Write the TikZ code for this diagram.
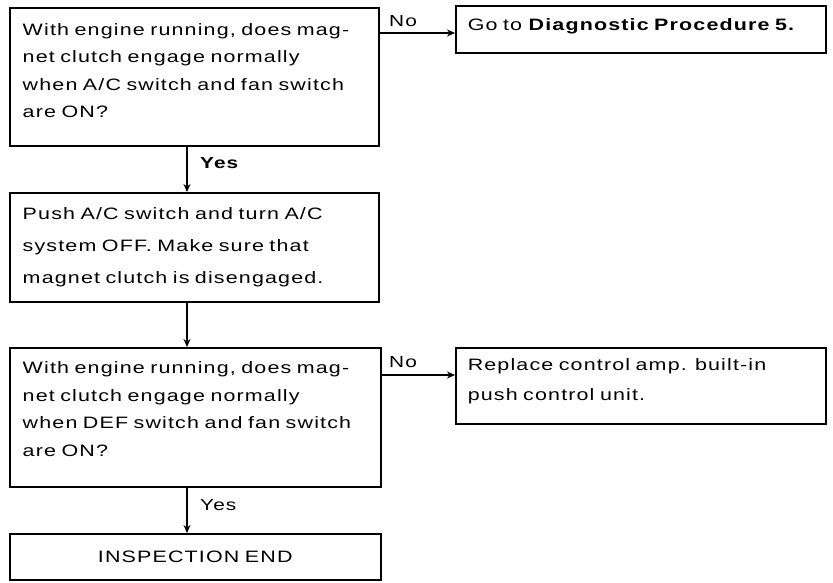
\documentclass[tikz,border=0pt]{standalone}
\usepackage{fontspec}
\setmainfont{Liberation Sans}[FakeStretch=1.3, LetterSpace=7, WordSpace=1.35]
\usetikzlibrary{arrows.meta}
\newcommand{\lift}[1]{\rule[-#1pt]{0pt}{0pt}}
\begin{document}
\begin{tikzpicture}[x=1pt,y=-1pt,
  box/.style={draw, line width=1.5pt, rectangle, anchor=north west, inner xsep=13pt, inner ysep=0pt, align=left},
  arr/.style={line width=1.3pt, -{Stealth[length=8pt,width=7pt]}},
  lbl/.style={inner sep=0pt, anchor=base west, font=\fontsize{16}{18}\selectfont},
  txt/.style={font=\fontsize{16.5}{27.5}\selectfont}
]
\useasboundingbox (0,0) rectangle (833,582);
\fill[white] (0,0) rectangle (833,582);

\node[box, txt, minimum width=369pt, minimum height=138pt, text width=343pt] (b1) at (9,7)
  {With engine running, does mag-\\net clutch engage normally\\when A/C switch and fan switch\\are ON?\lift{12}};
\node[box, txt, minimum width=370pt, minimum height=47pt, text width=346pt, inner xsep=12pt] (b2) at (455,5)
  {Go to \textbf{Diagnostic Procedure 5.}\lift{10}};
\node[box, font=\fontsize{16.5}{32}\selectfont, minimum width=369pt, minimum height=109pt, text width=343pt] (b3) at (9,192)
  {Push A/C switch and turn A/C\\system OFF. Make sure that\\magnet clutch is disengaged.\lift{4}};
\node[box, txt, minimum width=371pt, minimum height=139pt, text width=345pt] (b4) at (9,347)
  {With engine running, does mag-\\net clutch engage normally\\when DEF switch and fan switch\\are ON?\lift{16}};
\node[box, font=\fontsize{16.5}{30}\selectfont, minimum width=370pt, minimum height=76pt, text width=346pt, inner xsep=12pt] (b5) at (455,347)
  {Replace control amp. built-in\\push control unit.\lift{12}};
\node[box, txt, minimum width=371pt, minimum height=46pt, text width=345pt, align=center] (b6) at (9,533)
  {INSPECTION END};

\coordinate (vx) at (187,0);
\coordinate (h1) at (0,33);
\coordinate (h2) at (0,375);

\draw[arr] (b1.east |- h1) -- (b2.west |- h1);
\draw[arr] (b1.south -| vx) -- (b3.north -| vx);
\draw[arr] (b3.south -| vx) -- (b4.north -| vx);
\draw[arr] (b4.east |- h2) -- (b5.west |- h2);
\draw[arr] (b4.south -| vx) -- (b6.north -| vx);

\node[lbl] (no1) at (389,26) {No};
\node[lbl, font=\fontsize{16}{18}\bfseries] (yes1) at (200,168) {Yes};
\node[lbl] (no2) at (389,367) {No};
\node[lbl] (yes2) at (200,510) {Yes};
\end{tikzpicture}
\end{document}
